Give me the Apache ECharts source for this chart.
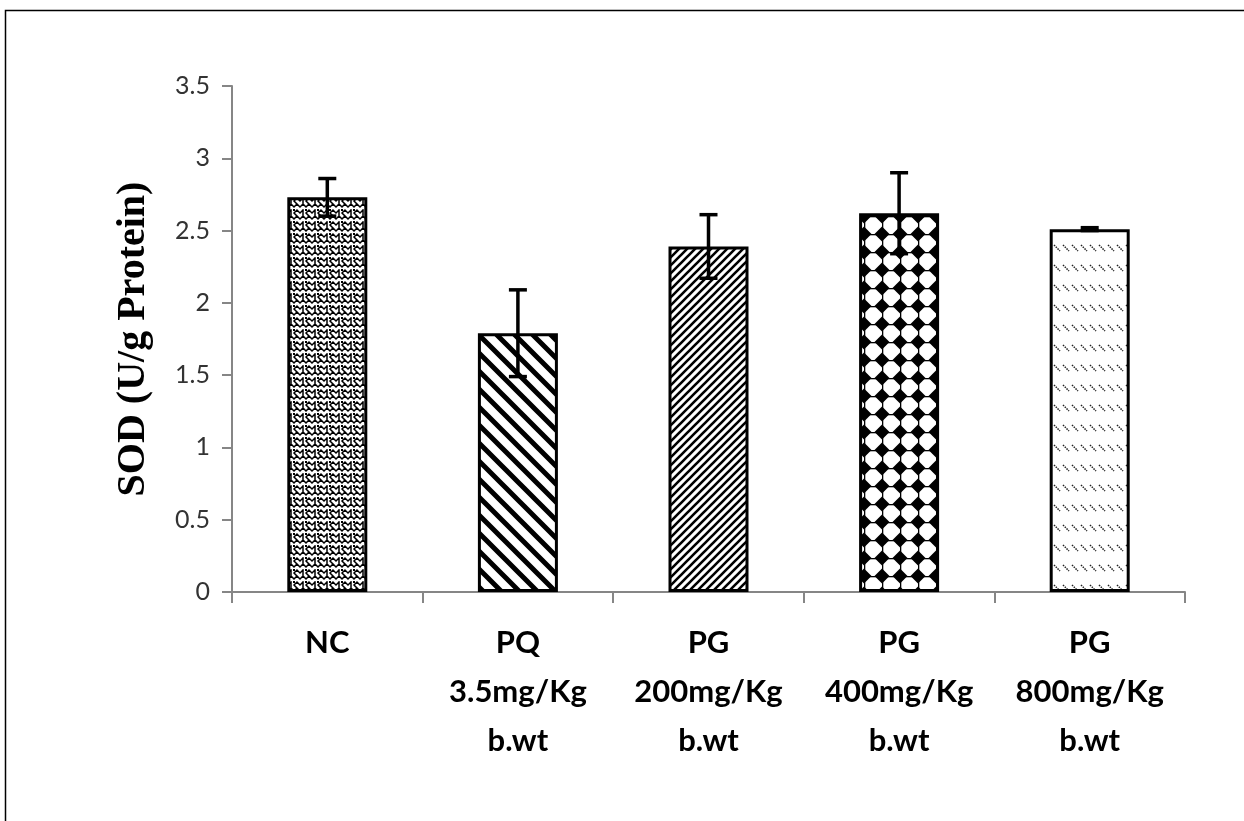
<!DOCTYPE html>
<html>
<head>
<meta charset="utf-8">
<script src="https://cdn.jsdelivr.net/npm/echarts@6/dist/echarts.min.js"></script>
<style>
html,body{margin:0;padding:0;background:#fff;}
#chart{width:1244px;height:821px;}
</style>
</head>
<body>
<div id="chart"></div>
<script>
// ---- data ----
const categories = ['NC', 'PQ\n3.5mg/Kg\nb.wt', 'PG\n200mg/Kg\nb.wt', 'PG\n400mg/Kg\nb.wt', 'PG\n800mg/Kg\nb.wt'];
const sodMean = [2.73, 1.79, 2.39, 2.62, 2.51];
const sodErr = [0.13, 0.30, 0.22, 0.28, 0.01];
const yTicks = [0, 0.5, 1, 1.5, 2, 2.5, 3, 3.5];
const yTitle = 'SOD (U/g Protein)';

// ---- pattern fills ----
function tile(w, h, draw) {
  const c = document.createElement('canvas');
  c.width = w; c.height = h;
  const g = c.getContext('2d');
  g.fillStyle = '#fff'; g.fillRect(0, 0, w, h);
  draw(g, w, h);
  return { image: c, repeat: 'repeat' };
}
const patWeave = tile(12, 12, (g) => {
  g.strokeStyle = '#000'; g.lineWidth = 1.5; g.lineCap = 'square';
  g.beginPath();
  g.moveTo(0, 3); g.lineTo(3, 0); g.lineTo(6, 3); g.lineTo(9, 0); g.lineTo(12, 3);
  g.moveTo(0, 9); g.lineTo(3, 6); g.moveTo(6, 9); g.lineTo(9, 6); g.lineTo(12, 9);
  g.moveTo(3, 6); g.lineTo(3, 12); g.moveTo(9, 12); g.lineTo(6, 9);
  g.stroke();
  g.fillStyle = '#000';
  g.fillRect(5, 5, 2, 2);
});
const patWide = tile(18, 18, (g) => {
  g.strokeStyle = '#000'; g.lineWidth = 5;
  g.beginPath();
  g.moveTo(-4, -4); g.lineTo(22, 22);
  g.moveTo(-22, -4); g.lineTo(4, 22);
  g.moveTo(14, -4); g.lineTo(40, 22);
  g.stroke();
});
const patNarrow = tile(8, 8, (g) => {
  g.strokeStyle = '#000'; g.lineWidth = 2.6;
  g.beginPath();
  g.moveTo(-2, 10); g.lineTo(10, -2);
  g.moveTo(-10, 10); g.lineTo(2, -2);
  g.moveTo(6, 10); g.lineTo(18, -2);
  g.stroke();
});
const patDiamond = tile(18, 18, (g) => {
  g.fillStyle = '#000';
  const star = (cx, cy) => {
    g.beginPath();
    g.moveTo(cx, cy - 7.5); g.lineTo(cx + 7.5, cy); g.lineTo(cx, cy + 7.5); g.lineTo(cx - 7.5, cy);
    g.closePath(); g.fill();
    g.beginPath(); g.arc(cx, cy, 4.6, 0, Math.PI * 2); g.fill();
  };
  [[0, 0], [18, 0], [0, 18], [18, 18]].forEach(p => star(p[0], p[1]));
  g.fillRect(0, 0, 18, 1.3); g.fillRect(0, 0, 1.3, 18);
});
const patDash = tile(9, 20, (g) => {
  g.strokeStyle = '#222'; g.lineWidth = 1.5;
  g.setLineDash([1.5, 1]);
  g.beginPath(); g.moveTo(1, 5); g.lineTo(7, 11); g.stroke();
});
const barFills = [patWeave, patWide, patNarrow, patDiamond, patDash];

const chart = echarts.init(document.getElementById('chart'), null, { renderer: 'canvas' });

const option = {
  backgroundColor: '#fff',
  animation: false,
  graphic: [{
    type: 'polyline', silent: true, z: 100,
    shape: { points: [[5.5, 821], [5.5, 10.5], [1244, 10.5]] },
    style: { fill: 'none', stroke: '#000', lineWidth: 1.5 }
  }],
  grid: { left: 232, right: 59, top: 86, bottom: 229, containLabel: false },
  xAxis: {
    type: 'category',
    data: categories,
    axisLine: { lineStyle: { color: '#868686', width: 2 } },
    axisTick: { show: true, length: 11, lineStyle: { color: '#868686', width: 2 }, alignWithLabel: false },
    axisLabel: {
      interval: 0, margin: 26, color: '#000', fontFamily: 'Lato', fontWeight: 'bold',
      fontSize: 31, lineHeight: 49
    }
  },
  yAxis: {
    type: 'value', min: 0, max: 3.5, interval: 0.5,
    name: yTitle, nameLocation: 'middle', nameGap: 78,
    nameTextStyle: { fontFamily: 'Liberation Serif', fontWeight: 'bold', fontSize: 40, color: '#000' },
    axisLine: { show: true, lineStyle: { color: '#868686', width: 2 } },
    axisTick: { show: true, length: 10, lineStyle: { color: '#868686', width: 2 } },
    splitLine: { show: false },
    axisLabel: {
      margin: 22, color: '#333', fontFamily: 'Lato', fontSize: 25,
      formatter: (v) => yTicks.includes(v) ? String(v) : ''
    }
  },
  series: [{
    type: 'bar',
    barWidth: 80,
    data: sodMean.map((v, i) => ({
      value: v,
      itemStyle: { color: barFills[i], borderColor: '#000', borderWidth: 3 }
    })),
    z: 2
  }, {
    type: 'custom',
    z: 5,
    data: sodMean.map((v, i) => [i, v - sodErr[i], v + sodErr[i]]),
    renderItem: function (params, api) {
      const lo = api.coord([api.value(0), api.value(1)]);
      const hi = api.coord([api.value(0), api.value(2)]);
      const x = hi[0], hw = 9;
      const st = { stroke: '#000', lineWidth: 3.5 };
      return {
        type: 'group',
        children: [
          { type: 'line', shape: { x1: x, y1: hi[1], x2: x, y2: lo[1] }, style: st },
          { type: 'line', shape: { x1: x - hw, y1: hi[1], x2: x + hw, y2: hi[1] }, style: st },
          { type: 'line', shape: { x1: x - hw, y1: lo[1], x2: x + hw, y2: lo[1] }, style: st }
        ]
      };
    }
  }]
};
chart.setOption(option);
</script>
</body>
</html>
